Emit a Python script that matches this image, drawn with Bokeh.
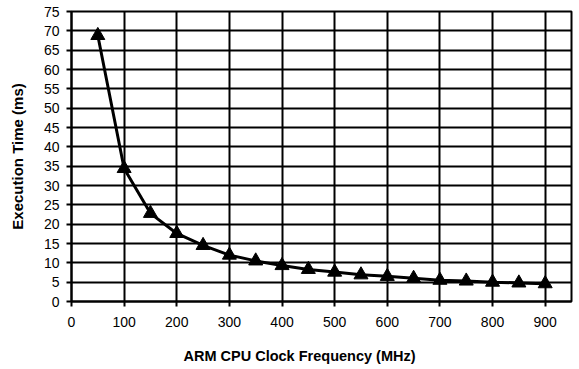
from bokeh.plotting import figure
from bokeh.models import Range1d, FixedTicker, Title
from bokeh.embed import file_html
from bokeh.resources import INLINE

freq_mhz = [50, 100, 150, 200, 250, 300, 350, 400, 450, 500, 550, 600, 650, 700, 750, 800, 850, 900]
exec_ms = [68.8, 34.4, 22.8, 17.6, 14.5, 12.0, 10.5, 9.3, 8.3, 7.6, 6.9, 6.5, 6.0, 5.5, 5.3, 5.0, 4.8, 4.6]
x_ticks = [0, 100, 200, 300, 400, 500, 600, 700, 800, 900]
y_ticks = list(range(0, 80, 5))
x_label = "ARM CPU Clock Frequency (MHz)"
y_label = "Execution Time (ms)"

p = figure(width=579, height=369, output_backend="svg", toolbar_location=None,
           x_range=Range1d(0, 950), y_range=Range1d(0, 75),
           min_border_left=71, min_border_right=8, min_border_top=11, min_border_bottom=68)
p.background_fill_color = "white"
p.border_fill_color = "white"
p.outline_line_color = "black"
p.outline_line_width = 2

font = "Liberation Sans"
for ax in (p.xaxis[0], p.yaxis[0]):
    ax.axis_line_color = "black"
    ax.axis_line_width = 2
    ax.major_tick_line_color = "black"
    ax.major_tick_line_width = 2
    ax.major_tick_in = 0
    ax.major_tick_out = 5
    ax.minor_tick_line_color = None
    ax.major_label_text_font = font
    ax.major_label_text_font_size = "14px"
    ax.major_label_text_color = "black"
    ax.axis_label_text_font = font
    ax.axis_label_text_font_size = "15px"
    ax.axis_label_text_font_style = "bold"
    ax.axis_label_text_color = "black"

p.xaxis.ticker = FixedTicker(ticks=x_ticks)
p.yaxis.ticker = FixedTicker(ticks=y_ticks)
p.yaxis.axis_label = y_label
p.xaxis.major_label_standoff = 10
p.yaxis.major_label_standoff = 7
p.yaxis.axis_label_standoff = 15

xt = Title(text=x_label, align="left", offset=112, text_font=font,
           text_font_size="14.5px", text_font_style="bold", text_color="black",
           vertical_align="bottom", standoff=0,
           padding=dict(left=0, right=0, top=16, bottom=0))
p.add_layout(xt, "below")

p.xgrid.ticker = FixedTicker(ticks=x_ticks)
p.ygrid.ticker = FixedTicker(ticks=y_ticks)
for g in (p.xgrid[0], p.ygrid[0]):
    g.grid_line_color = "black"
    g.grid_line_width = 2
    g.grid_line_alpha = 1.0

p.line(freq_mhz, exec_ms, line_color="black", line_width=3)
p.scatter(freq_mhz, exec_ms, marker="triangle", size=14, fill_color="black", line_color="black")

open("out.html", "w").write(file_html(p, INLINE))
